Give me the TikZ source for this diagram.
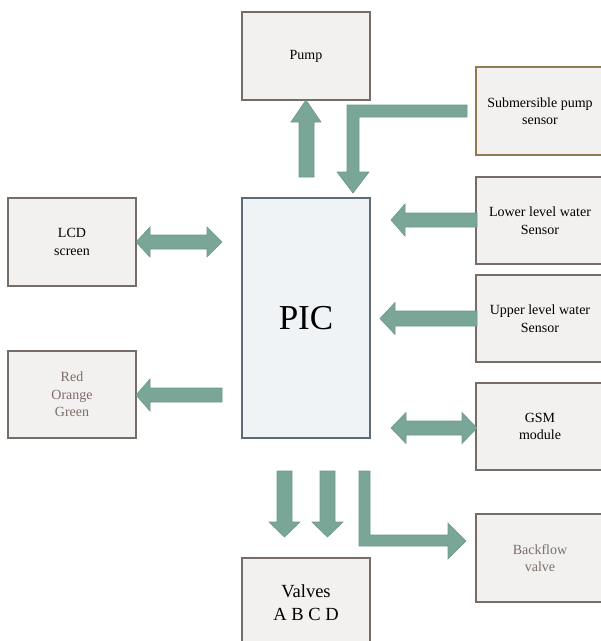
\documentclass[tikz,border=0pt]{standalone}
\usepackage{fontspec}
\setmainfont{Liberation Serif}
\definecolor{boxfill}{RGB}{242,241,239}
\definecolor{boxline}{RGB}{118,108,104}
\definecolor{goldline}{RGB}{145,122,80}
\definecolor{picfill}{RGB}{240,243,245}
\definecolor{picline}{RGB}{92,106,122}
\definecolor{arrowfill}{RGB}{122,166,152}
\definecolor{arrowline}{RGB}{108,152,138}
\definecolor{softtext}{RGB}{125,110,105}
\tikzset{
  blockbox/.style={draw=boxline, fill=boxfill, line width=1.3pt},
  boxtext/.style={align=center, font=\fontsize{14}{17.5}\selectfont, text=black},
  blockarrow/.style={fill=arrowfill, draw=arrowline, line width=0.6pt, line join=miter}
}
\begin{document}
\begin{tikzpicture}[x=1pt, y=-1pt]
\useasboundingbox (0,0) rectangle (601,641);

% boxes
\draw[blockbox] (242,12) rectangle (370,100);
\node[boxtext] (pump) at (306,56) {Pump};

\draw[blockbox, draw=goldline] (476,67) rectangle (604,155);
\node[boxtext] (sub) at (540,111) {Submersible pump\\sensor};

\draw[blockbox] (476,177) rectangle (604,264);
\node[boxtext] (lower) at (540,220.5) {Lower level water\\Sensor};

\draw[blockbox] (476,275) rectangle (604,362);
\node[boxtext] (upper) at (540,318.5) {Upper level water\\Sensor};

\draw[blockbox] (476,383) rectangle (604,470);
\node[boxtext] (gsm) at (540,426.5) {GSM\\module};

\draw[draw=picline, fill=picfill, line width=1.3pt] (242,198) rectangle (370,438);
\node[font=\fontsize{35}{40}\selectfont] (pic) at (306,318) {PIC};

\draw[blockbox] (8,198) rectangle (136,286);
\node[boxtext] (lcd) at (72,242) {LCD\\screen};

\draw[blockbox] (8,351) rectangle (136,438);
\node[boxtext, text=softtext] (led) at (72,394.5) {Red\\Orange\\Green};

\draw[blockbox] (242,558) rectangle (370,646);
\node[align=center, font=\fontsize{18.5}{23}\selectfont] (valves) at (306,603) {Valves\\A B C D};

\draw[blockbox] (476,514) rectangle (604,602);
\node[boxtext, text=softtext] (back) at (540,558) {Backflow\\valve};

% arrows
% PIC -> Pump
\draw[blockarrow] (299,177) -- (299,122) -- (291,122) -- (306,100) -- (321,122) -- (314,122) -- (314,177) -- cycle;
% Submersible sensor -> PIC (bent)
\draw[blockarrow] (467,105) -- (347,105) -- (347,172) -- (337,172) -- (353,193) -- (369,172) -- (359,172) -- (359,117) -- (467,117) -- cycle;
% LCD <-> PIC
\draw[blockarrow] (136,242) -- (150,227) -- (150,235) -- (207,235) -- (207,227) -- (222,242) -- (207,257) -- (207,249) -- (150,249) -- (150,257) -- cycle;
% PIC -> Red/Orange/Green
\draw[blockarrow] (136,395) -- (150,379) -- (150,388) -- (222,388) -- (222,402) -- (150,402) -- (150,411) -- cycle;
% Lower sensor -> PIC
\draw[blockarrow] (391,220) -- (405,204) -- (405,213) -- (477,213) -- (477,227) -- (405,227) -- (405,236) -- cycle;
% Upper sensor -> PIC
\draw[blockarrow] (380,318.5) -- (395,302.5) -- (395,311) -- (477,311) -- (477,326) -- (395,326) -- (395,334.5) -- cycle;
% GSM <-> PIC
\draw[blockarrow] (391,428) -- (406,412.5) -- (406,421) -- (462,421) -- (462,412.5) -- (477,428) -- (462,443.5) -- (462,435) -- (406,435) -- (406,443.5) -- cycle;
% PIC -> Valves (two)
\draw[blockarrow] (277,471) -- (292,471) -- (292,522) -- (300,522) -- (284.5,537) -- (269,522) -- (277,522) -- cycle;
\draw[blockarrow] (320,471) -- (335,471) -- (335,522) -- (343,522) -- (327.5,537) -- (312,522) -- (320,522) -- cycle;
% PIC -> Backflow valve (bent)
\draw[blockarrow] (359,471) -- (370,471) -- (370,535) -- (448,535) -- (448,523) -- (466,541) -- (448,559) -- (448,546) -- (359,546) -- cycle;
\end{tikzpicture}
\end{document}
